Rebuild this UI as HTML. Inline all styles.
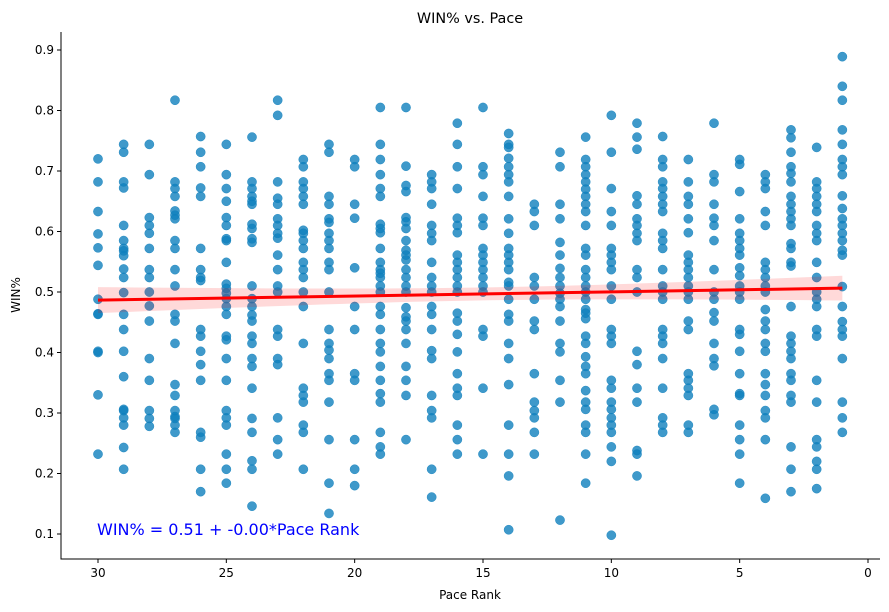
<!DOCTYPE html>
<html><head><meta charset="utf-8"><style>
body{margin:0;background:#fff;}
svg{display:block;font-family:"DejaVu Sans","Liberation Sans",sans-serif;}
</style></head><body>
<svg id="chart" width="889" height="612">
<g id="grid"></g>
</svg>
<script>
const paceRanks=[30,29,28,27,26,25,24,23,22,21,20,19,18,17,16,15,14,13,12,11,10,9,8,7,6,5,4,3,2,1];
const winPcts=[
[0.72,0.682,0.633,0.596,0.573,0.544,0.488,0.464,0.463,0.402,0.40,0.33,0.232],
[0.744,0.731,0.682,0.672,0.610,0.585,0.572,0.568,0.560,0.538,0.524,0.499,0.463,0.438,0.402,0.360,0.306,0.304,0.292,0.280,0.243,0.207],
[0.744,0.694,0.623,0.610,0.597,0.572,0.537,0.524,0.500,0.477,0.452,0.390,0.354,0.304,0.291,0.278],
[0.817,0.682,0.671,0.658,0.634,0.627,0.621,0.585,0.572,0.537,0.510,0.463,0.452,0.415,0.347,0.329,0.304,0.294,0.291,0.280,0.268],
[0.757,0.731,0.707,0.672,0.658,0.572,0.537,0.524,0.519,0.438,0.427,0.402,0.380,0.354,0.268,0.260,0.207,0.170],
[0.744,0.694,0.671,0.650,0.623,0.610,0.588,0.585,0.549,0.513,0.506,0.498,0.489,0.476,0.463,0.427,0.421,0.390,0.354,0.304,0.292,0.280,0.232,0.207,0.184],
[0.756,0.682,0.671,0.658,0.650,0.645,0.612,0.605,0.588,0.582,0.510,0.489,0.476,0.462,0.452,0.427,0.415,0.390,0.377,0.341,0.291,0.268,0.221,0.207,0.146],
[0.817,0.792,0.682,0.655,0.645,0.621,0.610,0.597,0.589,0.561,0.537,0.510,0.500,0.438,0.427,0.390,0.380,0.292,0.256,0.232],
[0.719,0.707,0.682,0.671,0.658,0.645,0.602,0.597,0.585,0.572,0.549,0.537,0.524,0.500,0.476,0.415,0.341,0.329,0.318,0.280,0.268,0.207],
[0.744,0.731,0.658,0.645,0.621,0.615,0.597,0.585,0.572,0.549,0.537,0.500,0.438,0.415,0.404,0.390,0.365,0.354,0.318,0.256,0.184,0.134],
[0.719,0.707,0.645,0.622,0.540,0.476,0.438,0.365,0.354,0.256,0.207,0.180],
[0.805,0.744,0.719,0.694,0.671,0.658,0.612,0.605,0.598,0.572,0.549,0.537,0.531,0.524,0.510,0.500,0.476,0.463,0.438,0.415,0.401,0.377,0.354,0.332,0.318,0.268,0.244,0.232],
[0.805,0.708,0.676,0.666,0.623,0.616,0.605,0.585,0.569,0.561,0.553,0.537,0.524,0.510,0.500,0.474,0.459,0.452,0.438,0.415,0.377,0.354,0.329,0.256],
[0.694,0.682,0.671,0.645,0.610,0.597,0.585,0.549,0.524,0.510,0.500,0.476,0.463,0.438,0.403,0.390,0.329,0.304,0.292,0.207,0.161],
[0.779,0.744,0.707,0.671,0.622,0.610,0.598,0.561,0.549,0.537,0.524,0.510,0.500,0.465,0.452,0.430,0.401,0.365,0.341,0.329,0.280,0.256,0.232],
[0.805,0.707,0.694,0.658,0.622,0.610,0.572,0.561,0.549,0.537,0.524,0.510,0.500,0.438,0.427,0.341,0.232],
[0.762,0.744,0.739,0.721,0.707,0.694,0.682,0.658,0.621,0.597,0.572,0.561,0.549,0.537,0.516,0.510,0.488,0.463,0.452,0.415,0.390,0.347,0.280,0.232,0.196,0.107],
[0.645,0.633,0.610,0.524,0.510,0.488,0.452,0.438,0.365,0.318,0.304,0.292,0.268,0.232],
[0.731,0.707,0.645,0.621,0.582,0.561,0.539,0.524,0.510,0.498,0.488,0.476,0.452,0.415,0.401,0.354,0.318,0.123],
[0.756,0.719,0.707,0.694,0.682,0.670,0.658,0.645,0.633,0.610,0.572,0.561,0.537,0.524,0.510,0.500,0.488,0.471,0.465,0.456,0.427,0.415,0.393,0.377,0.365,0.337,0.318,0.306,0.280,0.268,0.232,0.184],
[0.792,0.731,0.671,0.633,0.610,0.572,0.561,0.549,0.537,0.510,0.488,0.438,0.427,0.415,0.354,0.341,0.318,0.306,0.292,0.280,0.268,0.244,0.220,0.098],
[0.779,0.756,0.736,0.659,0.645,0.621,0.610,0.597,0.585,0.537,0.524,0.500,0.402,0.380,0.341,0.318,0.238,0.232,0.196],
[0.757,0.719,0.707,0.682,0.671,0.658,0.645,0.633,0.597,0.585,0.572,0.537,0.510,0.500,0.488,0.438,0.427,0.415,0.390,0.341,0.292,0.280,0.268],
[0.719,0.682,0.658,0.645,0.621,0.598,0.561,0.549,0.537,0.524,0.510,0.500,0.488,0.452,0.438,0.365,0.354,0.341,0.329,0.280,0.268],
[0.779,0.694,0.682,0.645,0.622,0.610,0.585,0.537,0.500,0.488,0.466,0.452,0.415,0.390,0.378,0.306,0.297],
[0.719,0.711,0.666,0.621,0.597,0.585,0.572,0.561,0.540,0.527,0.510,0.500,0.488,0.438,0.430,0.402,0.365,0.332,0.329,0.280,0.256,0.232,0.184],
[0.694,0.682,0.671,0.633,0.610,0.549,0.537,0.524,0.510,0.500,0.471,0.452,0.438,0.415,0.402,0.365,0.347,0.329,0.304,0.292,0.256,0.159],
[0.768,0.755,0.731,0.707,0.696,0.682,0.658,0.645,0.633,0.621,0.610,0.580,0.572,0.549,0.543,0.476,0.427,0.415,0.402,0.390,0.365,0.354,0.329,0.318,0.244,0.207,0.170],
[0.739,0.682,0.671,0.658,0.645,0.633,0.610,0.597,0.585,0.549,0.524,0.500,0.488,0.476,0.438,0.427,0.354,0.318,0.256,0.244,0.220,0.207,0.175],
[0.889,0.840,0.817,0.768,0.744,0.719,0.707,0.694,0.659,0.638,0.621,0.610,0.597,0.585,0.569,0.561,0.509,0.476,0.451,0.438,0.427,0.390,0.318,0.292,0.268]
];
const xTicks=[30,25,20,15,10,5,0];
const yTicks=[0.1,0.2,0.3,0.4,0.5,0.6,0.7,0.8,0.9];

const NS="http://www.w3.org/2000/svg";
const svg=document.getElementById('chart');
const L=61,R=880,T=32,B=559;
function xs(v){return 868+(0-v)*25.667;}
function ys(v){return 50+(0.9-v)*605;}
function mk(tag,attrs,parent){const e=document.createElementNS(NS,tag);for(const k in attrs)e.setAttribute(k,attrs[k]);(parent||svg).appendChild(e);return e;}

let xsArr=[],ysArr=[];
paceRanks.forEach((p,i)=>winPcts[i].forEach(w=>{xsArr.push(p);ysArr.push(w);}));
const n=xsArr.length;
const mx=xsArr.reduce((a,b)=>a+b,0)/n,my=ysArr.reduce((a,b)=>a+b,0)/n;
let sxx=0,sxy=0;for(let i=0;i<n;i++){sxx+=(xsArr[i]-mx)**2;sxy+=(xsArr[i]-mx)*(ysArr[i]-my);}
const slope=sxy/sxx,icpt=my-slope*mx;
let sse=0;for(let i=0;i<n;i++){sse+=(ysArr[i]-icpt-slope*xsArr[i])**2;}
const s=Math.sqrt(sse/(n-2));
const xmin=Math.min(...paceRanks),xmax=Math.max(...paceRanks);
let up=[],lo=[];
for(let k=0;k<=40;k++){const x=xmin+(xmax-xmin)*k/40;const yh=icpt+slope*x;const se=1.7*s*Math.sqrt(1/n+(x-mx)**2/sxx);up.push(xs(x)+','+ys(yh+se));lo.unshift(xs(x)+','+ys(yh-se));}

const pts=mk('g',{});


paceRanks.forEach((p,i)=>{winPcts[i].forEach(w=>{
  const c=mk('circle',{cx:xs(p),cy:ys(w),r:4.6,fill:'#0f7fbd','fill-opacity':0.8,stroke:'#0f7fbd','stroke-opacity':0.8,'stroke-width':0.5},pts);
  
  
});});

const band=mk('polygon',{points:up.concat(lo).join(' '),fill:'#ff0000','fill-opacity':0.15,stroke:'none'});


const line=mk('line',{x1:xs(xmax),y1:ys(icpt+slope*xmax),x2:xs(xmin),y2:ys(icpt+slope*xmin),stroke:'#ff0000','stroke-width':3});



const ax=mk('path',{d:`M${L},${T}V${B}H${R}`,stroke:'#000','stroke-width':1,fill:'none'});


xTicks.forEach(t=>{
  const tk=mk('line',{x1:xs(t),x2:xs(t),y1:B,y2:B+4,stroke:'#000'});
  
  
  const tl=mk('text',{x:xs(t),y:B+18,'text-anchor':'middle','font-size':12,fill:'#000'});
  tl.textContent=t;
  
  
});
yTicks.forEach(t=>{
  const tk=mk('line',{x1:L-4,x2:L,y1:ys(t),y2:ys(t),stroke:'#000'});
  
  
  const tl=mk('text',{x:L-7,y:ys(t)+4,'text-anchor':'end','font-size':12,fill:'#000'});
  tl.textContent=t.toFixed(1);
  
  
});
</script>
<script>
(function(){
const svg=document.getElementById('chart');const NS="http://www.w3.org/2000/svg";
function t(txt,attrs,name){const e=document.createElementNS(NS,'text');for(const k in attrs)e.setAttribute(k,attrs[k]);e.textContent=txt;svg.appendChild(e);

}
t('WIN% vs. Pace',{x:470,y:23,'text-anchor':'middle','font-size':14.4},'chart-title');
t('Pace Rank',{x:470,y:599,'text-anchor':'middle','font-size':12},'x-axis-title');
t('WIN%',{x:20,y:295,'text-anchor':'middle','font-size':12,transform:'rotate(-90 20 295)'},'y-axis-title');
t('WIN% = 0.51 + -0.00*Pace Rank',{x:97,y:535,'font-size':16,fill:'#0000ff'},'equation-annotation');
})();
</script>
</body></html>
